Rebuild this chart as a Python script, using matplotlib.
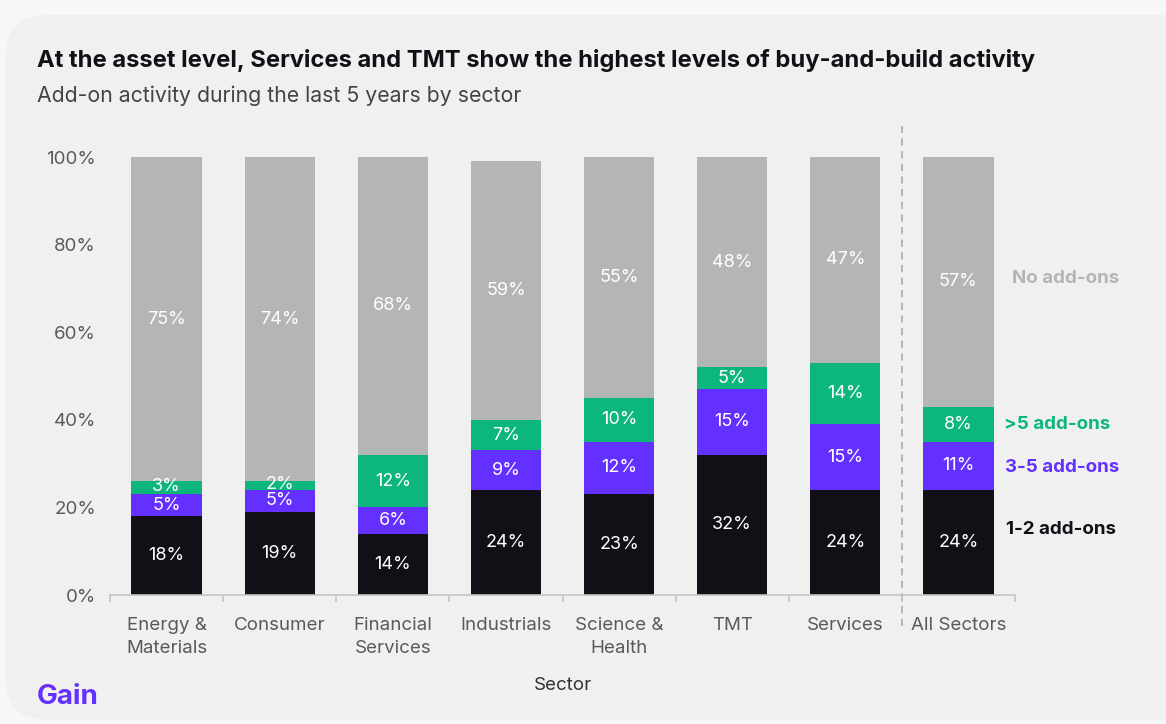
import matplotlib.pyplot as plt
import numpy as np
from matplotlib.patches import FancyBboxPatch

plt.rcParams['font.family'] = ['Inter', 'DejaVu Sans']

sectors = ["Energy &\nMaterials", "Consumer", "Financial\nServices", "Industrials",
           "Science &\nHealth", "TMT", "Services", "All Sectors"]
one_two = [18, 19, 14, 24, 23, 32, 24, 24]
three_five = [5, 5, 6, 9, 12, 15, 15, 11]
over_five = [3, 2, 12, 7, 10, 5, 14, 8]
no_addons = [75, 74, 68, 59, 55, 48, 47, 57]

series = [
    ("1-2 add-ons", one_two, "#121016"),
    ("3-5 add-ons", three_five, "#6430ff"),
    (">5 add-ons", over_five, "#0db67a"),
    ("No add-ons", no_addons, "#b4b5b7"),
]
legend_colors = {"1-2 add-ons": "#121016", "3-5 add-ons": "#6430ff",
                 ">5 add-ons": "#0db67a", "No add-ons": "#b4b5b7"}

W, H = 1166, 724
fig = plt.figure(figsize=(W / 100, H / 100), dpi=100)
fig.patch.set_facecolor("#f7f7f7")

# rounded card behind the chart
card = FancyBboxPatch((6 / W, 4 / H), 1.2, 1 - 15 / H - 4 / H,
                      boxstyle="round,pad=0,rounding_size=0.035",
                      transform=fig.transFigure, facecolor="#f0f0f0",
                      edgecolor="none", mutation_aspect=W / H, zorder=-10)
fig.patches.append(card)

ax = fig.add_axes([110 / W, 1 - 595 / H, 905 / W, (595 - 157) / H])
ax.set_facecolor("none")

x = np.arange(len(sectors))
bottom = np.zeros(len(sectors))
for name, vals, col in series:
    vals = np.array(vals, dtype=float)
    ax.bar(x, vals, bottom=bottom, width=0.62, color=col, zorder=2)
    for xi, b, v in zip(x, bottom, vals):
        top = min(b + v, 100)
        yc = (b + top) / 2
        if v <= 3:
            yc += 0.3
        ax.text(xi, yc, f"{int(v)}%", ha="center", va="center",
                color="white", fontsize=13, zorder=3)
    bottom += vals

ax.set_xlim(-0.5, len(sectors) - 0.5)
ax.set_ylim(0, 100)
ax.set_yticks(np.arange(0, 101, 20))
ax.set_yticklabels([f"{t}%" for t in range(0, 101, 20)])
ax.tick_params(axis="y", length=0, pad=10, labelsize=13.5, labelcolor="#5a5a5a")

ax.set_xticks(x)
ax.set_xticklabels(sectors, linespacing=1.45)
ax.tick_params(axis="x", length=0, pad=16, labelsize=13.5, labelcolor="#5a5a5a")
ax.set_xticks(np.arange(-0.5, len(sectors)), minor=True)
ax.tick_params(axis="x", which="minor", length=5, color="#c4c4c4", width=1.2)

for s in ["top", "right", "left"]:
    ax.spines[s].set_visible(False)
ax.spines["bottom"].set_color("#c4c4c4")
ax.spines["bottom"].set_linewidth(1.2)

# separator before the all-sectors bar
ax.plot([6.5, 6.5], [-7, 107], ls=(0, (4, 3)), color="#b0b0b0", lw=1.3,
        clip_on=False, zorder=1)

# direct series labels beside the all-sectors bar
label_pos = {"No add-ons": (7.475, 72.3), ">5 add-ons": (7.40, 39.0),
             "3-5 add-ons": (7.415, 29.2), "1-2 add-ons": (7.42, 15.0)}
for name, (xv, yv) in label_pos.items():
    ax.text(xv, yv, name, ha="left", va="center", fontsize=13.5, fontweight="bold",
            color=legend_colors[name], clip_on=False)

ax.set_xlabel("Sector", fontsize=13.5, color="#333333", labelpad=14)

fig.text(37 / W, 1 - 60 / H, "At the asset level, Services and TMT show the highest levels of buy-and-build activity",
         ha="left", va="center", fontsize=17.1, fontweight="bold", color="#121016")
fig.text(37 / W, 1 - 96 / H, "Add-on activity during the last 5 years by sector",
         ha="left", va="center", fontsize=15.3, color="#444444")
fig.text(37 / W, 1 - 697 / H, "Gain", ha="left", va="center", fontsize=20,
         fontweight="bold", color="#6430ff")

fig.savefig("out.png", dpi=100, facecolor=fig.get_facecolor())
